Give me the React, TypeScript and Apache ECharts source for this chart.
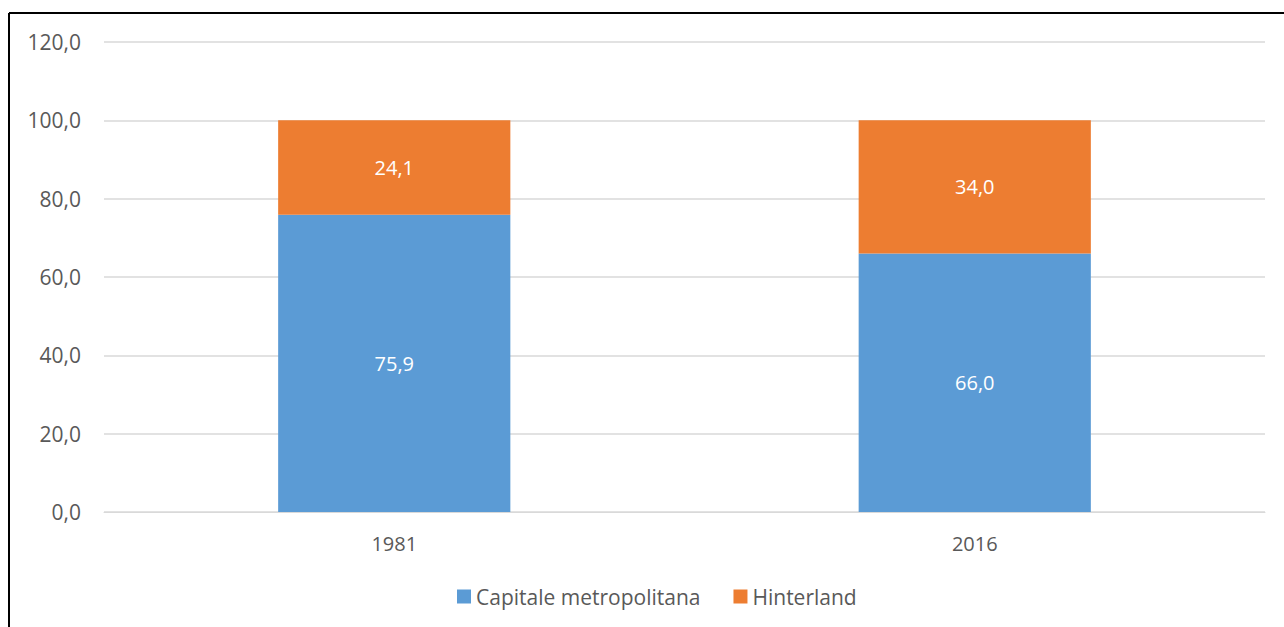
import React, { useEffect, useRef } from "react";
import * as echarts from "echarts";

const categories = ["1981", "2016"];
const capitale = [75.9, 66.0];
const hinterland = [24.1, 34.0];
const seriesNames = ["Capitale metropolitana", "Hinterland"];

const fmt = (v: number) => v.toFixed(1).replace(".", ",");
const FONT = "'Open Sans', 'Noto Sans', sans-serif";

export default function App() {
  const ref = useRef<HTMLDivElement>(null);
  useEffect(() => {
    if (!ref.current) return;
    const chart = echarts.init(ref.current, undefined, { renderer: "svg" });
    chart.setOption({
      animation: false,
      backgroundColor: "#ffffff",
      textStyle: { fontFamily: FONT },
      grid: { left: 104, right: 19, top: 42, bottom: 115, containLabel: false },
      graphic: [
        { type: "line", shape: { x1: 9, y1: 13, x2: 1284, y2: 13 }, style: { stroke: "#000", lineWidth: 2 } },
        { type: "line", shape: { x1: 9, y1: 13, x2: 9, y2: 627 }, style: { stroke: "#000", lineWidth: 2 } },
      ],
      legend: {
        data: seriesNames,
        bottom: 15,
        left: 452,
        itemWidth: 14,
        itemHeight: 14,
        itemGap: 33,
        icon: "rect",
        textStyle: { color: "#595959", fontSize: 21, fontFamily: FONT, padding: [0, 0, 0, 0] },
      },
      xAxis: {
        type: "category",
        data: categories,
        axisLine: { show: true, lineStyle: { color: "#D9D9D9", width: 1 } },
        axisTick: { show: false },
        axisLabel: { color: "#595959", fontSize: 20, margin: 21, fontFamily: FONT },
      },
      yAxis: {
        type: "value",
        min: 0,
        max: 120,
        interval: 20,
        axisLine: { show: false },
        axisTick: { show: false },
        splitLine: { lineStyle: { color: "#D9D9D9", width: 1.5 } },
        axisLabel: { color: "#595959", fontSize: 21, margin: 23, fontFamily: FONT, formatter: (v: number) => fmt(v) },
      },
      series: [
        {
          name: seriesNames[0],
          type: "bar",
          stack: "total",
          data: capitale,
          barWidth: "40%",
          itemStyle: { color: "#5B9BD5" },
          label: { show: true, position: "inside", color: "#ffffff", fontSize: 20, fontFamily: FONT, formatter: (p: any) => fmt(p.value) },
        },
        {
          name: seriesNames[1],
          type: "bar",
          stack: "total",
          data: hinterland,
          barWidth: "40%",
          itemStyle: { color: "#ED7D31" },
          label: { show: true, position: "inside", color: "#ffffff", fontSize: 20, fontFamily: FONT, formatter: (p: any) => fmt(p.value) },
        },
      ],
    });
    return () => chart.dispose();
  }, []);
  return (
    <div
      ref={ref}
      style={{ position: "fixed", left: 0, top: 0, width: 1284, height: 627 }}
    />
  );
}
